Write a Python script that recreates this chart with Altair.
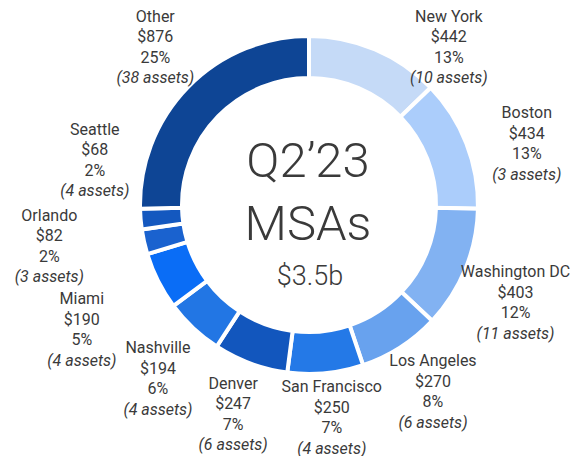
import math
import altair as alt
import pandas as pd

# ---- data ----
cities = ["New York", "Boston", "Washington DC", "Los Angeles", "San Francisco",
          "Denver", "Nashville", "Miami", "Orlando", "Seattle", "Other"]
values = [442, 434, 403, 270, 250, 247, 194, 190, 82, 68, 876]
pcts = [13, 13, 12, 8, 7, 7, 6, 5, 2, 2, 25]
assets = [10, 3, 11, 6, 4, 6, 4, 4, 3, 4, 38]
colors = ["#C5DAF7", "#ABCDFB", "#82B2F2", "#68A2EE", "#2479E7", "#1256BD",
          "#2276E4", "#0A6DF6", "#1A62CF", "#1458BF", "#0E4595"]
center_title = "Q2\u201923\nMSAs"
center_total = "$3.5b"

# ---- layout (not data) ----
CX, CY = 301, 197          # donut centre in view pixels
R_OUT, R_IN = 169, 127     # radii (stroke eats 2px each side)
R_LABEL = 222
LINE_H = 20.5
FONT = "Roboto"
TXT = "#3a3a3a"
# small per-label nudges so the label blocks sit like the reference
nudge = {
    "New York": (53, 47), "Boston": (11, 20), "Washington DC": (1, 14),
    "Los Angeles": (4, 0), "San Francisco": (1, -8), "Denver": (1, 1),
    "Nashville": (1, 12), "Miami": (-29, 25), "Orlando": (-43, -7),
    "Seattle": (7, -63), "Other": (5, -2),
}

df = pd.DataFrame({
    "city": cities,
    "value": values,
    "pct": pcts,
    "assets": assets,
    "order": list(range(len(cities))),
})
df["main"] = [f"{c}\n${v}\n{p}%" for c, v, p in zip(cities, values, pcts)]
df["italic"] = [f"({a} assets)" for a in assets]

color_scale = alt.Scale(domain=cities, range=colors)
frac_scale = alt.Scale(domain=[0, 1], range=[0, 2 * math.pi])

base = alt.Chart(df).transform_window(
    cum="sum(value)", sort=[alt.SortField("order")], frame=[None, 0]
).transform_joinaggregate(
    total="sum(value)"
).transform_calculate(
    f0="(datum.cum - datum.value) / datum.total",
    f1="datum.cum / datum.total",
    frac="(datum.cum - datum.value / 2) / datum.total",
)

arc = base.mark_arc(
    outerRadius=R_OUT, innerRadius=R_IN, stroke="white", strokeWidth=4
).encode(
    theta=alt.Theta("f0:Q", scale=frac_scale),
    theta2="f1:Q",
    color=alt.Color("city:N", scale=color_scale, legend=None),
    x=alt.value(CX),
    y=alt.value(CY),
)

theta_mid = alt.Theta("frac:Q", scale=frac_scale)

layers = [arc]
for c in cities:
    ndx, ndy = nudge[c]
    sub = base.transform_filter(alt.datum.city == c)
    layers.append(
        sub.mark_text(
            radius=R_LABEL, dx=ndx, dy=ndy - 1.5 * LINE_H, lineBreak="\n",
            lineHeight=LINE_H, fontSize=16, font=FONT, color=TXT,
            align="center", baseline="middle",
        ).encode(theta=theta_mid, text="main:N", x=alt.value(CX), y=alt.value(CY))
    )
    layers.append(
        sub.mark_text(
            radius=R_LABEL, dx=ndx, dy=ndy + 1.5 * LINE_H, fontSize=16, font=FONT,
            fontStyle="italic", color=TXT, align="center", baseline="middle",
        ).encode(theta=theta_mid, text="italic:N", x=alt.value(CX), y=alt.value(CY))
    )

title_df = pd.DataFrame({"t": [center_title]})
title_text = alt.Chart(title_df).mark_text(
    fontSize=49, font=FONT, fontWeight=300, color=TXT, align="center",
    baseline="alphabetic", lineBreak="\n", lineHeight=63,
).encode(text="t:N", x=alt.value(CX - 1), y=alt.value(169))

total_df = pd.DataFrame({"t": [center_total]})
total_text = alt.Chart(total_df).mark_text(
    fontSize=27, font=FONT, fontWeight=300, color=TXT, align="center",
    baseline="alphabetic",
).encode(text="t:N", x=alt.value(CX + 1), y=alt.value(277))

layers += [title_text, total_text]

chart = alt.layer(*layers).properties(
    width=564, height=448, padding=0, autosize="none"
).configure_view(stroke=None)

chart.save("out.html", embed_options={"renderer": "svg", "actions": False})
